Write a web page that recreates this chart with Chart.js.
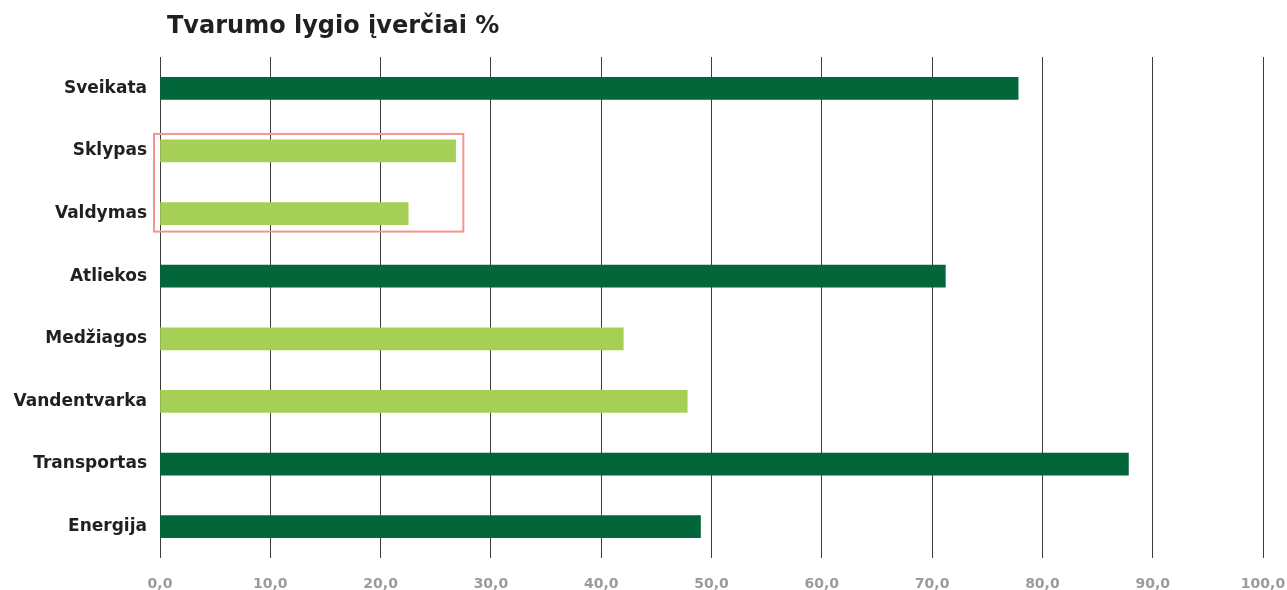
<!DOCTYPE html>
<html>
<head>
<meta charset="utf-8">
<script src="https://cdn.jsdelivr.net/npm/chart.js@4"></script>
<style>
  html, body { margin: 0; padding: 0; background: #fff; overflow: hidden; }
  canvas { display: block; }
</style>
</head>
<body>
<canvas id="myChart" width="1287" height="590"></canvas>
<script>
const categories = ["Sveikata", "Sklypas", "Valdymas", "Atliekos", "Medžiagos", "Vandentvarka", "Transportas", "Energija"];
const scores = [77.8, 26.8, 22.5, 71.2, 42.0, 47.8, 87.8, 49.0];
const highlighted = [false, true, true, false, true, true, false, false];
const xTicks = [0, 10, 20, 30, 40, 50, 60, 70, 80, 90, 100];
const boxedCategories = ["Sklypas", "Valdymas"];
const boxedUpTo = 27.5;

const ctx = document.getElementById("myChart");
const darkGreen = "#03653a";
const lightGreen = "#a5cf55";
const fontName = "'DejaVu Sans', sans-serif";

// title and the red box round two categories
const extras = {
    id: "extras",
    afterDraw(chart) {
        const c = chart.ctx;
        const { x, y } = chart.scales;
        c.save();
        c.fillStyle = "#231f20";
        c.font = "700 24px " + fontName;
        c.textBaseline = "middle";
        c.fillText("Tvarumo lygio įverčiai %", chart.chartArea.left + 7, 27);

        const first = categories.indexOf(boxedCategories[0]);
        const last = categories.indexOf(boxedCategories[boxedCategories.length - 1]);
        const left = x.getPixelForValue(0) - 6;
        const right = x.getPixelForValue(boxedUpTo);
        const top = y.getPixelForValue(first) - 17;
        const bottom = y.getPixelForValue(last) + 18;
        c.strokeStyle = "#f4968b";
        c.lineWidth = 2;
        c.strokeRect(left, top, right - left, bottom - top);
        c.restore();
    },
};

new Chart(ctx, {
    type: "bar",
    data: {
        labels: categories,
        datasets: [
            {
                data: scores,
                backgroundColor: highlighted.map((h) => (h ? lightGreen : darkGreen)),
                barThickness: 22,
            },
        ],
    },
    options: {
        indexAxis: "y",
        responsive: false,
        animation: false,
        layout: { padding: { top: 57, left: 0, right: 0, bottom: 0 } },
        plugins: {
            legend: { display: false },
            tooltip: { enabled: false },
        },
        scales: {
            x: {
                min: 0,
                max: 100,
                z: 1,
                afterBuildTicks: (scale) => {
                    scale.ticks = xTicks.map((v) => ({ value: v }));
                },
                afterFit: (scale) => {
                    scale.height = 32;
                    scale.paddingRight = 24;
                    scale.paddingLeft = 0;
                },
                grid: { color: "#3c3c3c", lineWidth: 1, drawTicks: false },
                border: { display: false },
                ticks: {
                    padding: 18,
                    color: "#9b9b9b",
                    font: { family: fontName, size: 14, weight: "700" },
                    callback: (v) => v.toFixed(1).replace(".", ","),
                },
            },
            y: {
                afterFit: (scale) => {
                    scale.width = 160;
                },
                grid: { display: false, drawTicks: false, tickLength: 0 },
                border: { display: false },
                ticks: {
                    padding: 13,
                    color: "#231f20",
                    font: { family: fontName, size: 17, weight: "700" },
                },
            },
        },
    },
    plugins: [extras],
});
</script>
</body>
</html>
